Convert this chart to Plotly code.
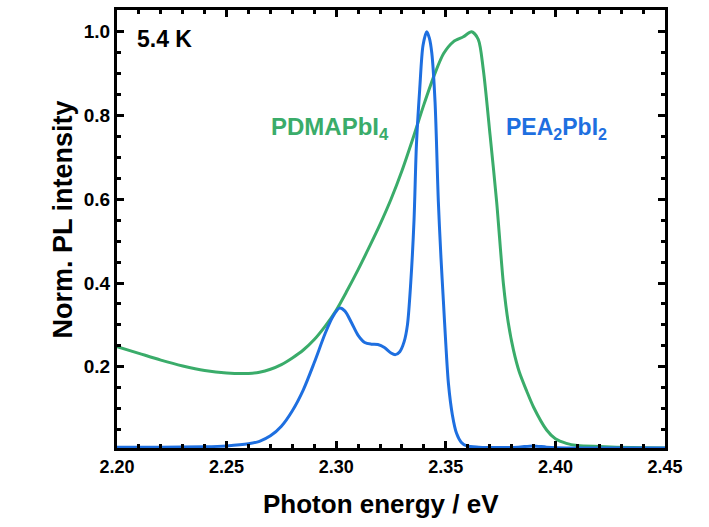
import plotly.graph_objects as go

# PEA2PbI2 (blue)
pea_E = [2.200, 2.220, 2.240, 2.250, 2.260, 2.265, 2.270, 2.275, 2.280, 2.285, 2.290, 2.295, 2.2985,
         2.3015, 2.304, 2.307, 2.310, 2.313, 2.316, 2.319, 2.322, 2.325, 2.327, 2.329, 2.331, 2.3325,
         2.334, 2.3355, 2.3366, 2.3381, 2.3396, 2.3413, 2.3425, 2.3436, 2.3451, 2.3466, 2.3478, 2.3489,
         2.3500, 2.3512, 2.3530, 2.3549, 2.3570, 2.3596, 2.365, 2.375, 2.383, 2.3898, 2.396, 2.405,
         2.420, 2.450]
pea_I = [0.008, 0.008, 0.009, 0.011, 0.016, 0.022, 0.035, 0.058, 0.095, 0.145, 0.210, 0.280, 0.320,
         0.340, 0.333, 0.305, 0.275, 0.258, 0.254, 0.253, 0.246, 0.233, 0.229, 0.236, 0.260, 0.300,
         0.400, 0.550, 0.730, 0.863, 0.967, 1.000, 0.985, 0.950, 0.832, 0.594, 0.460, 0.357,
         0.255, 0.160, 0.085, 0.041, 0.020, 0.011, 0.008, 0.007, 0.008, 0.011, 0.008, 0.006,
         0.006, 0.006]

# PDMAPbI4 (green)
pdma_E = [2.200, 2.210, 2.220, 2.230, 2.240, 2.250, 2.260, 2.265, 2.270, 2.275, 2.280, 2.285, 2.290,
          2.295, 2.300, 2.305, 2.310, 2.315, 2.320, 2.325, 2.330, 2.335, 2.340, 2.345, 2.349, 2.3534,
          2.358, 2.3618, 2.3648, 2.3671, 2.3702, 2.3732, 2.3763, 2.3785, 2.3809, 2.3835, 2.3869, 2.390,
          2.396, 2.400, 2.405, 2.410, 2.420, 2.435, 2.450]
pdma_I = [0.248, 0.232, 0.216, 0.202, 0.191, 0.185, 0.184, 0.187, 0.194, 0.205, 0.221, 0.240, 0.265,
          0.297, 0.335, 0.382, 0.432, 0.485, 0.540, 0.600, 0.668, 0.745, 0.826, 0.900, 0.948, 0.976,
          0.988, 1.000, 0.982, 0.910, 0.753, 0.594, 0.397, 0.305, 0.239, 0.188, 0.142, 0.104,
          0.049, 0.028, 0.017, 0.012, 0.0095, 0.007, 0.006]

x_ticks = [2.20, 2.25, 2.30, 2.35, 2.40, 2.45]
x_labels = ["2.20", "2.25", "2.30", "2.35", "2.40", "2.45"]
y_ticks = [0.2, 0.4, 0.6, 0.8, 1.0]
y_labels = ["0.2", "0.4", "0.6", "0.8", "1.0"]

GREEN = "#3aac6a"
BLUE = "#1e6fe0"
FONT = "Liberation Sans"

fig = go.Figure()
fig.add_trace(go.Scatter(x=pdma_E, y=pdma_I, mode="lines",
                         line=dict(color=GREEN, width=3, shape="spline", smoothing=0.8),
                         name="PDMAPbI4", showlegend=False))
fig.add_trace(go.Scatter(x=pea_E, y=pea_I, mode="lines",
                         line=dict(color=BLUE, width=3, shape="spline", smoothing=0.8),
                         name="PEA2PbI2", showlegend=False))

axis_common = dict(showline=True, linecolor="black", linewidth=3, mirror="ticks", ticks="inside",
                   ticklen=7, tickwidth=2.5, tickcolor="black", showgrid=False, zeroline=False,
                   tickfont=dict(family=FONT, size=18, color="black"))

fig.update_xaxes(range=[2.20, 2.45], tickvals=x_ticks, ticktext=["<b>%s</b>" % t for t in x_labels],
                 minor=dict(dtick=0.01, ticks="inside", ticklen=4, tickwidth=2.5, tickcolor="black"),
                 **axis_common)
fig.update_yaxes(range=[0.006, 1.052], tickvals=y_ticks, ticktext=["<b>%s</b>" % t for t in y_labels],
                 minor=dict(dtick=0.05, tick0=0, ticks="inside", ticklen=4, tickwidth=2.5, tickcolor="black"),
                 tickfont=dict(family=FONT, size=19, color="black"),
                 **{k: v for k, v in axis_common.items() if k != "tickfont"})

L, R, T, B = 117, 709 - 44, 7, 527 - 79


def px_to_paper(px, py):
    return (px - L) / (R - L), (B - py) / (B - T)


xt_x, xt_y = px_to_paper(381, 522)
yt_x, yt_y = px_to_paper(46, 218)

fig.update_layout(
    width=709, height=527,
    margin=dict(l=L, r=709 - R, t=T, b=527 - B),
    plot_bgcolor="white", paper_bgcolor="white",
    font=dict(family=FONT),
    annotations=[
        dict(text="<b>5.4 K</b>", x=0.032, y=0.968, xref="paper", yref="paper", xanchor="left", yanchor="top",
             showarrow=False, font=dict(family=FONT, size=23, color="black")),
        dict(text="<b>PDMAPbI<sub>4</sub></b>", x=2.2695, y=0.770, xref="x", yref="y", xanchor="left",
             yanchor="middle", showarrow=False, font=dict(family=FONT, size=24, color=GREEN)),
        dict(text="<b>PEA<sub>2</sub>PbI<sub>2</sub></b>", x=2.3767, y=0.770, xref="x", yref="y", xanchor="left",
             yanchor="middle", showarrow=False, font=dict(family=FONT, size=23, color=BLUE)),
        dict(text="<b>Photon energy / eV</b>", x=xt_x, y=xt_y, xref="paper", yref="paper", showarrow=False,
             font=dict(family=FONT, size=26, color="black")),
        dict(text="<b>Norm. PL intensity</b>", x=yt_x, y=yt_y, xref="paper", yref="paper", showarrow=False,
             textangle=-90, font=dict(family=FONT, size=27, color="black")),
    ],
)

fig.write_html("out.html")
